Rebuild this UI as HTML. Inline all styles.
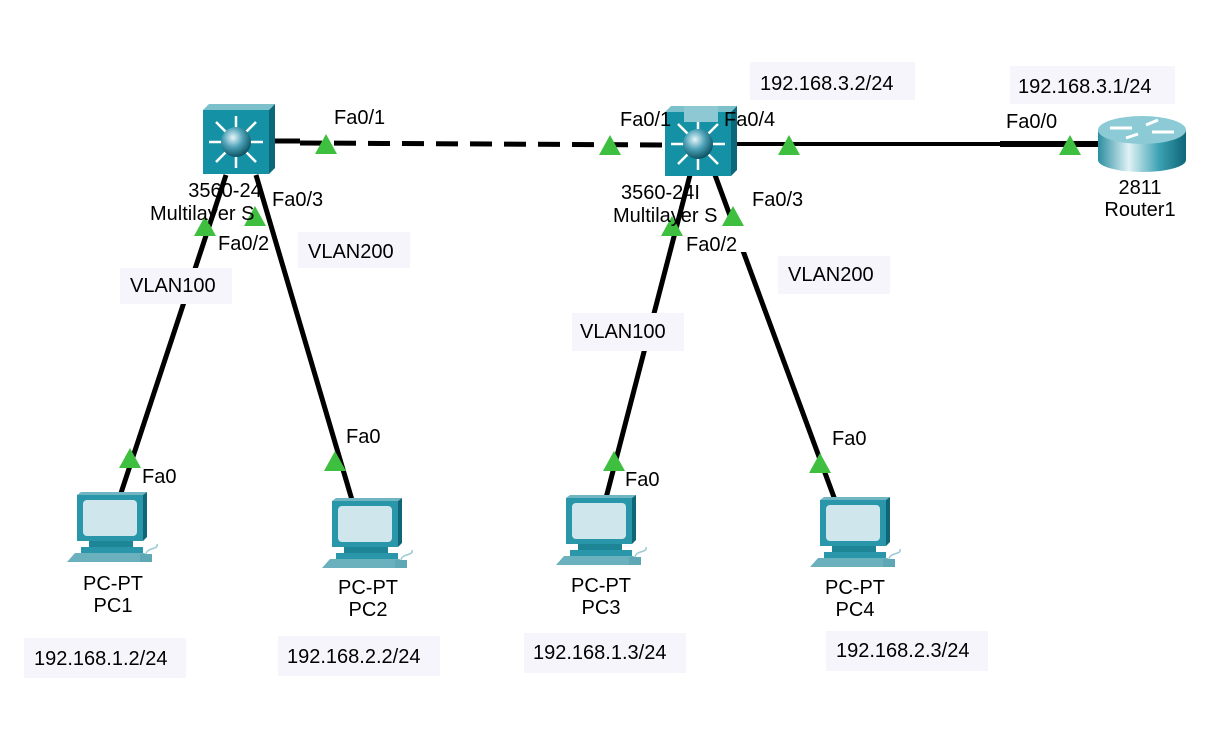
<!DOCTYPE html>
<html><head><meta charset="utf-8"><style>
body{margin:0;background:#fff}
svg{display:block}
text{font-family:"Liberation Sans",sans-serif;font-size:20px;fill:#000}
.c{text-anchor:middle}
</style></head><body>
<svg width="1228" height="740" viewBox="0 0 1228 740">
<defs>
<radialGradient id="ball" cx="40%" cy="35%" r="65%"><stop offset="0" stop-color="#e8f6fa"/><stop offset="0.5" stop-color="#4fa3b8"/><stop offset="1" stop-color="#0d5566"/></radialGradient>
<linearGradient id="rt" x1="0" x2="1"><stop offset="0" stop-color="#2a8ea0"/><stop offset="0.35" stop-color="#e0f2f5"/><stop offset="0.7" stop-color="#3aa0b2"/><stop offset="1" stop-color="#0f6677"/></linearGradient>
<g id="sw">
<polygon points="0,6 6,0 72,0 66,6" fill="#7cc0cc"/>
<polygon points="66,6 72,0 72,64 66,70" fill="#0c6878"/>
<rect x="0" y="6" width="66" height="64" fill="#1591a6"/>
<g stroke="#fff" stroke-width="2.5" fill="#fff">
<line x1="33" y1="38" x2="33" y2="12"/><line x1="33" y1="38" x2="33" y2="64"/>
<line x1="33" y1="38" x2="6" y2="38"/><line x1="33" y1="38" x2="60" y2="38"/>
<line x1="33" y1="38" x2="13" y2="18"/><line x1="33" y1="38" x2="53" y2="18"/>
<line x1="33" y1="38" x2="13" y2="58"/><line x1="33" y1="38" x2="53" y2="58"/>
</g>
<circle cx="33" cy="38" r="15" fill="url(#ball)"/>
</g>
<g id="pc">
<polygon points="10,3 14,0 80,0 76,3" fill="#6fb5c2"/>
<rect x="10" y="3" width="66" height="46" fill="#2a96a9"/>
<polygon points="76,3 80,0 80,45 76,49" fill="#0f6677"/>
<rect x="16" y="8" width="54" height="36" rx="4" fill="#cfe6ec"/>
<rect x="22" y="49" width="44" height="6" fill="#1d8596"/>
<rect x="14" y="55" width="62" height="6" fill="#2a96a9"/>
<polygon points="8,61 78,61 74,70 0,70" fill="#6bb0bd"/>
<rect x="73" y="62" width="12" height="8" fill="#5ea8b6"/>
<path d="M79,62 C80,55 92,58 90,52" stroke="#9ccbd5" stroke-width="1.5" fill="none"/>
</g>
<g id="tri"><polygon points="0,-12 -11,8 11,8" fill="#3fbf3f"/></g>
</defs>

<!-- links -->
<g stroke="#000" stroke-width="5" fill="none">
<line x1="275" y1="141" x2="300" y2="141"/>
<line x1="300" y1="143" x2="666" y2="145" stroke-dasharray="22,12"/>
<line x1="737" y1="144" x2="1000" y2="144" stroke-width="4"/>
<line x1="1000" y1="144" x2="1100" y2="144" stroke-width="6"/>
<line x1="226" y1="175" x2="120" y2="496"/>
<line x1="256" y1="175" x2="352" y2="500"/>
<line x1="690" y1="175" x2="606" y2="498"/>
<line x1="715" y1="175" x2="835" y2="500"/>
</g>

<!-- label backgrounds -->
<g fill="#f5f5fb">
<rect x="750" y="62" width="165" height="38"/>
<rect x="1010" y="66" width="165" height="38"/>
<rect x="120" y="268" width="112" height="36"/>
<rect x="298" y="232" width="112" height="36"/>
<rect x="572" y="313" width="112" height="38"/>
<rect x="778" y="256" width="112" height="38"/>
<rect x="24" y="638" width="162" height="40"/>
<rect x="278" y="636" width="162" height="40"/>
<rect x="524" y="633" width="162" height="40"/>
<rect x="826" y="631" width="162" height="40"/>
</g>

<!-- white label boxes over links -->
<g fill="#fff">
<rect x="726" y="106" width="68" height="30"/>
<rect x="612" y="106" width="52" height="30"/>
<rect x="1000" y="108" width="70" height="30"/>
<rect x="752" y="186" width="50" height="26"/>
<rect x="700" y="226" width="90" height="26"/>
</g>

<use href="#sw" x="203" y="104"/>
<use href="#sw" x="665" y="106"/>
<rect x="684" y="106" width="34" height="16" fill="#8ec8d2"/>

<!-- router -->
<g transform="translate(1098,116)">
<rect x="0" y="14" width="88" height="30" fill="url(#rt)"/>
<ellipse cx="44" cy="44" rx="44" ry="12" fill="url(#rt)"/>
<ellipse cx="44" cy="14" rx="44" ry="14" fill="#8ccbd6"/>
<g stroke="#fff" stroke-width="3"><line x1="12" y1="12" x2="34" y2="12"/><line x1="54" y1="16" x2="76" y2="16"/><line x1="48" y1="9" x2="60" y2="4"/><line x1="28" y1="22" x2="40" y2="18"/></g>
</g>

<use href="#pc" x="67" y="492"/>
<use href="#pc" x="322" y="498"/>
<use href="#pc" x="556" y="495"/>
<use href="#pc" x="810" y="497"/>

<!-- port triangles -->
<use href="#tri" x="326" y="146"/>
<use href="#tri" x="610" y="147"/>
<use href="#tri" x="789" y="147"/>
<use href="#tri" x="1070" y="147"/>
<use href="#tri" x="205" y="228"/>
<use href="#tri" x="255" y="218"/>
<use href="#tri" x="672" y="228"/>
<use href="#tri" x="733" y="218"/>
<use href="#tri" x="130" y="460"/>
<use href="#tri" x="335" y="463"/>
<use href="#tri" x="614" y="463"/>
<use href="#tri" x="820" y="465"/>

<!-- text -->
<text x="334" y="124">Fa0/1</text>
<text x="620" y="126">Fa0/1</text>
<text x="724" y="126">Fa0/4</text>
<text x="1006" y="128">Fa0/0</text>
<text x="760" y="90">192.168.3.2/24</text>
<text x="1018" y="93">192.168.3.1/24</text>
<text x="1140" y="194" class="c">2811</text>
<text x="1140" y="216" class="c">Router1</text>
<text x="225" y="197" class="c">3560-24</text>
<text x="150" y="220">Multilayer S</text>
<text x="272" y="206">Fa0/3</text>
<text x="218" y="250">Fa0/2</text>
<text x="308" y="258">VLAN200</text>
<text x="130" y="292">VLAN100</text>
<text x="621" y="199">3560-24I</text>
<text x="613" y="222">Multilayer S</text>
<text x="752" y="206">Fa0/3</text>
<text x="686" y="251">Fa0/2</text>
<text x="788" y="281">VLAN200</text>
<text x="580" y="338">VLAN100</text>
<text x="142" y="483">Fa0</text>
<text x="346" y="443">Fa0</text>
<text x="625" y="486">Fa0</text>
<text x="832" y="445">Fa0</text>
<text x="113" y="590" class="c">PC-PT</text><text x="113" y="612" class="c">PC1</text>
<text x="368" y="594" class="c">PC-PT</text><text x="368" y="616" class="c">PC2</text>
<text x="601" y="592" class="c">PC-PT</text><text x="601" y="614" class="c">PC3</text>
<text x="855" y="594" class="c">PC-PT</text><text x="855" y="616" class="c">PC4</text>
<text x="34" y="665">192.168.1.2/24</text>
<text x="287" y="663">192.168.2.2/24</text>
<text x="533" y="659">192.168.1.3/24</text>
<text x="836" y="657">192.168.2.3/24</text>
</svg>
</body></html>
